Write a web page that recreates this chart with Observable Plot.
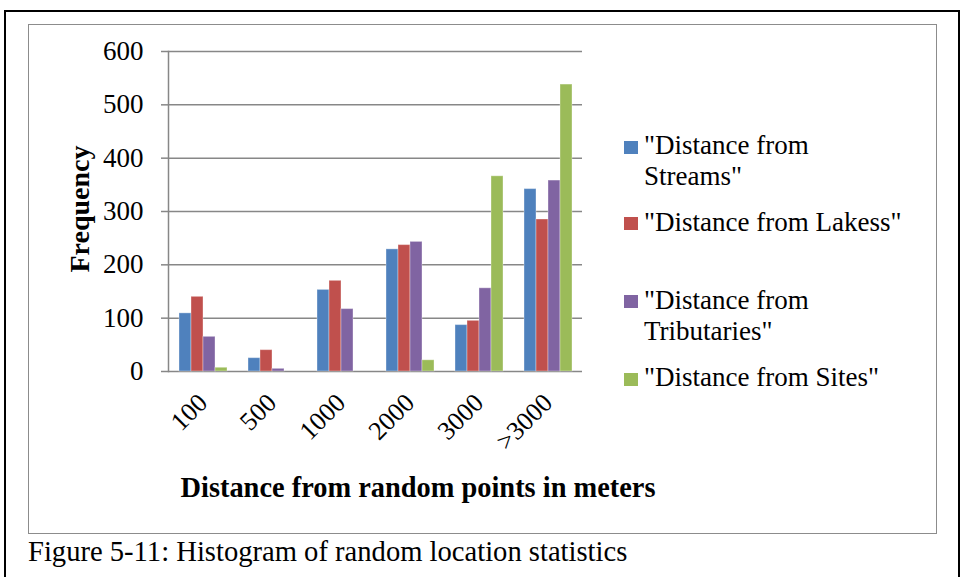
<!DOCTYPE html>
<html>
<head>
<meta charset="utf-8">
<script src="https://cdn.jsdelivr.net/npm/d3@7"></script>
<script src="https://cdn.jsdelivr.net/npm/@observablehq/plot@0.6"></script>
<style>
  html, body { margin: 0; padding: 0; background: white; }
  #page { position: relative; width: 967px; height: 577px; overflow: hidden; background: white;
          font-family: "Liberation Serif", "Times New Roman", serif; color: black; }
  #chart { position: absolute; left: 0; top: 0; }
  .outer { position: absolute; left: 4px; top: 10px; width: 956px; height: 600px;
           border: 2px solid black; box-sizing: border-box; }
  .inner { position: absolute; left: 28px; top: 24px; width: 909px; height: 510px;
           border: 1.5px solid #8c8c8c; box-sizing: border-box; }
  .ytitle { position: absolute; left: 80px; top: 209px; transform: translate(-50%, -50%) rotate(-90deg);
            font-weight: bold; font-size: 28px; white-space: nowrap; line-height: 1; }
  .xtitle { position: absolute; left: 418px; top: 474px; transform: translateX(-50%);
            font-weight: bold; font-size: 28.4px; white-space: nowrap; line-height: 1; }
  .legend-item { position: absolute; left: 644px; font-size: 27px; line-height: 31px; white-space: nowrap; }
  .swatch { position: absolute; left: 624px; width: 14px; height: 13px; }
  .caption { position: absolute; left: 28px; top: 538px; font-size: 28.6px; line-height: 1; white-space: nowrap; }
</style>
</head>
<body>
<div id="page">
  <div id="chart"></div>
  <div class="outer"></div>
  <div class="inner"></div>
  <div class="ytitle">Frequency</div>
  <div class="xtitle">Distance from random points in meters</div>
  <div id="legend"></div>
  <div class="caption">Figure 5-11: Histogram of random location statistics</div>
</div>
<script>
// Distance bins (meters) along the x axis
const bins = ["100", "500", "1000", "2000", "3000", ">3000"];

// Series names as shown in the legend
const seriesNames = [
  '"Distance from Streams"',
  '"Distance from Lakess"',
  '"Distance from Tributaries"',
  '"Distance from Sites"'
];

// Frequencies per bin, one array per series
const streams     = [109, 25, 153, 229, 87, 342];
const lakes       = [140, 40, 170, 237, 95, 285];
const tributaries = [65, 5, 117, 243, 156, 358];
const sites       = [7, 0, 0, 21, 366, 538];

// Y axis tick values
const yTicks = [0, 100, 200, 300, 400, 500, 600];

// Series colours
const seriesColors = ["#4F81BD", "#C0504D", "#8064A2", "#9BBB59"];

// Legend text, with the line breaks used in the legend box
const legendLines = [
  ['"Distance from', 'Streams"'],
  ['"Distance from Lakess"'],
  ['"Distance from', 'Tributaries"'],
  ['"Distance from Sites"']
];

const seriesValues = [streams, lakes, tributaries, sites];
const rows = bins.flatMap((bin, i) =>
  seriesNames.map((series, j) => ({ bin, series, value: seriesValues[j][i] }))
);

const grey = "#878787";
const serif = "Liberation Serif";

const chart = Plot.plot({
  width: 967,
  height: 520,
  marginLeft: 168,
  marginRight: 385,
  marginTop: 51,
  marginBottom: 149,
  style: { fontFamily: serif, fontSize: "27px", color: "black", background: "transparent" },
  fx: { domain: bins, padding: 0, label: null },
  x: { domain: seriesNames, paddingInner: 0, paddingOuter: 0.75, axis: null },
  y: { domain: [0, 600] },
  color: { domain: seriesNames, range: seriesColors },
  marks: [
    Plot.gridY(yTicks, { stroke: grey, strokeOpacity: 1, strokeWidth: 1.5 }),
    Plot.frame({ anchor: "left", facetAnchor: "left", stroke: grey, strokeWidth: 1.5 }),
    Plot.axisY(yTicks, { tickSize: 7, tickPadding: 18, stroke: grey, strokeWidth: 1.5, fill: "black",
                         label: null, fontSize: 27, fontFamily: serif }),
    Plot.axisFx({ anchor: "bottom", tickRotate: -45, tickSize: 0, tickPadding: 27, label: null,
                  fontSize: 26, fontFamily: serif, fill: "black" }),
    Plot.barY(rows, { fx: "bin", x: "series", y: "value", fill: "series",
                      stroke: "white", strokeOpacity: 0.35, strokeWidth: 1 })
  ]
});
document.getElementById("chart").appendChild(chart);

// Legend: swatch + text for each series
const legend = document.getElementById("legend");
const itemTops = [130, 207, 285, 362];
const swatchTops = [141, 217, 295, 373];
legendLines.forEach((lines, i) => {
  const sw = document.createElement("div");
  sw.className = "swatch";
  sw.style.top = swatchTops[i] + "px";
  sw.style.background = seriesColors[i];
  legend.appendChild(sw);
  const item = document.createElement("div");
  item.className = "legend-item";
  item.style.top = itemTops[i] + "px";
  item.innerHTML = lines.join("<br>");
  legend.appendChild(item);
});
</script>
</body>
</html>
